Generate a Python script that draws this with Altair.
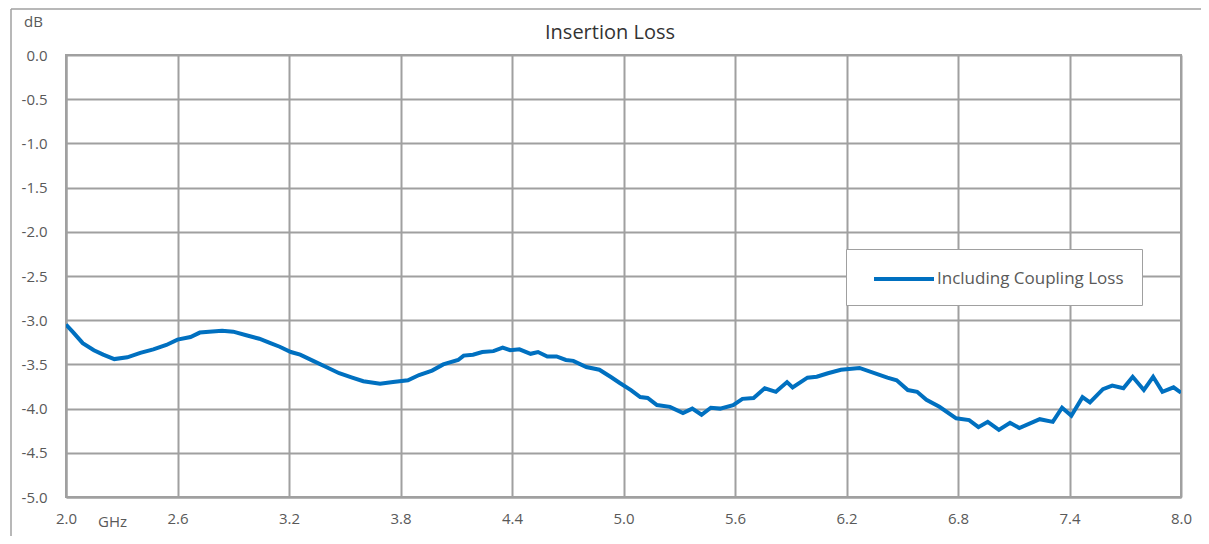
import altair as alt
import pandas as pd

# ---- data ----
freq_ghz = [2.00, 2.04, 2.09, 2.15, 2.20, 2.26, 2.33, 2.40, 2.47, 2.54, 2.60, 2.67,
            2.72, 2.77, 2.84, 2.90, 2.97, 3.04, 3.10, 3.15, 3.21, 3.26, 3.33, 3.40,
            3.47, 3.54, 3.60, 3.69, 3.76, 3.84, 3.90, 3.97, 4.03, 4.11, 4.14, 4.19,
            4.24, 4.30, 4.35, 4.39, 4.44, 4.50, 4.54, 4.59, 4.64, 4.69, 4.73, 4.80,
            4.87, 4.93, 4.98, 5.04, 5.09, 5.13, 5.18, 5.25, 5.32, 5.37, 5.42, 5.47,
            5.52, 5.59, 5.64, 5.70, 5.76, 5.82, 5.88, 5.91, 5.99, 6.04, 6.10, 6.17,
            6.27, 6.42, 6.47, 6.53, 6.58, 6.63, 6.70, 6.79, 6.86, 6.91, 6.96, 7.02,
            7.08, 7.13, 7.24, 7.31, 7.36, 7.41, 7.47, 7.51, 7.58, 7.63, 7.69, 7.74,
            7.80, 7.85, 7.90, 7.96, 8.00]
loss_db = [-3.05, -3.14, -3.26, -3.34, -3.39, -3.44, -3.42, -3.37, -3.33, -3.28, -3.22, -3.19,
           -3.14, -3.13, -3.12, -3.13, -3.17, -3.21, -3.26, -3.30, -3.36, -3.39, -3.46, -3.53,
           -3.60, -3.65, -3.69, -3.72, -3.70, -3.68, -3.62, -3.57, -3.50, -3.45, -3.40, -3.39,
           -3.36, -3.35, -3.31, -3.34, -3.33, -3.38, -3.36, -3.41, -3.41, -3.45, -3.46, -3.53,
           -3.56, -3.64, -3.71, -3.79, -3.87, -3.88, -3.96, -3.98, -4.05, -4.00, -4.07, -3.99,
           -4.00, -3.96, -3.89, -3.88, -3.77, -3.81, -3.70, -3.76, -3.65, -3.64, -3.60, -3.56,
           -3.54, -3.65, -3.68, -3.79, -3.81, -3.90, -3.98, -4.11, -4.13, -4.21, -4.15, -4.24,
           -4.16, -4.22, -4.12, -4.15, -3.99, -4.08, -3.87, -3.93, -3.78, -3.74, -3.77, -3.64,
           -3.79, -3.64, -3.81, -3.76, -3.82]
series_name = "Including Coupling Loss"
chart_title = "Insertion Loss"

x_ticks = [2.0, 2.6, 3.2, 3.8, 4.4, 5.0, 5.6, 6.2, 6.8, 7.4, 8.0]
y_ticks = [0.0, -0.5, -1.0, -1.5, -2.0, -2.5, -3.0, -3.5, -4.0, -4.5, -5.0]

df = pd.DataFrame({"freq": freq_ghz, "loss": loss_db, "series": series_name})

W, H = 1115, 442
PAD_R = 20
GRID = "#a0a0a0"
TEXT = "#595959"
FONT = "Open Sans"
LINE_COLOR = "#0070C0"

label_expr = "(datum.value < 0 ? '-' : '') + format(abs(datum.value), '.1f')"

one = pd.DataFrame({"k": [0]})

frame_top = alt.Chart(one).mark_rule(stroke=GRID, strokeWidth=1.5, clip=False).encode(
    x=alt.value(-55), x2=alt.value(W + PAD_R), y=alt.value(-46)
)
frame_left = alt.Chart(one).mark_rule(stroke=GRID, strokeWidth=1.5, clip=False).encode(
    x=alt.value(-55), y=alt.value(-46), y2=alt.value(H + 39)
)

title_text = alt.Chart(pd.DataFrame({"t": [chart_title]})).mark_text(
    font=FONT, fontSize=20, color="#333333", align="center", baseline="middle", clip=False
).encode(x=alt.value(544), y=alt.value(-22), text="t:N")

line = alt.Chart(df).mark_line(strokeWidth=4, clip=True).encode(
    x=alt.X(
        "freq:Q",
        scale=alt.Scale(domain=[2, 8], nice=False, zero=False),
        axis=alt.Axis(
            values=x_ticks, title="GHz", titleAngle=0, titleX=46, titleY=24,
            titleAlign="center", titleBaseline="middle", titleFontWeight="normal",
            titleFontSize=15, titleColor=TEXT, titleFont=FONT,
            labelExpr=label_expr, labelFontSize=15, labelColor=TEXT, labelFont=FONT,
            labelPadding=14, labelFlush=False, ticks=False, tickSize=0,
            grid=True, gridColor=GRID, gridWidth=2,
            domainColor=GRID, domainWidth=2,
        ),
    ),
    y=alt.Y(
        "loss:Q",
        scale=alt.Scale(domain=[-5, 0], nice=False, zero=False),
        axis=alt.Axis(
            values=y_ticks, title="dB", titleAngle=0, titleX=-33, titleY=-34,
            titleAlign="center", titleBaseline="middle", titleFontWeight="normal",
            titleFontSize=15, titleColor=TEXT, titleFont=FONT,
            labelExpr=label_expr, labelFontSize=15, labelColor=TEXT, labelFont=FONT,
            labelPadding=19, ticks=False, tickSize=0,
            grid=True, gridColor=GRID, gridWidth=2,
            domainColor=GRID, domainWidth=2,
        ),
    ),
    color=alt.Color(
        "series:N",
        scale=alt.Scale(domain=[series_name], range=[LINE_COLOR]),
        legend=alt.Legend(
            title=None, orient="none", legendX=780, legendY=194,
            fillColor="white", strokeColor=GRID, padding=18,
            symbolType="M-3,0H3", symbolSize=400, symbolStrokeWidth=4,
            symbolOffset=28, labelOffset=21, labelLimit=400,
            labelFontSize=17, labelColor=TEXT, labelFont=FONT,
        ),
    ),
)

chart = alt.layer(frame_top, frame_left, title_text, line).properties(
    width=W, height=H,
    autosize=alt.AutoSizeParams(type="none"),
    padding={"left": 58, "top": 47, "right": PAD_R, "bottom": 39},
).configure_view(stroke=GRID, strokeWidth=2)

chart.save("out.html", embed_options={"renderer": "svg", "actions": False})
